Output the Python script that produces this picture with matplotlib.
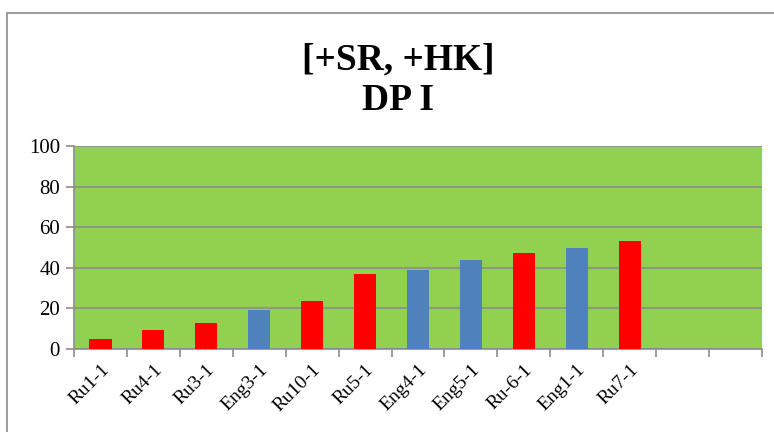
import matplotlib
matplotlib.use("Agg")
import matplotlib.pyplot as plt
from matplotlib.patches import Rectangle
import numpy as np

categories = ["Ru1-1", "Ru4-1", "Ru3-1", "Eng3-1", "Ru10-1", "Ru5-1",
              "Eng4-1", "Eng5-1", "Ru-6-1", "Eng1-1", "Ru7-1", "", ""]
values = [4.9, 9.3, 12.7, 19.1, 23.5, 36.8, 39.1, 43.6, 47.1, 50.0, 53.4, None, None]
groups = ["Ru", "Ru", "Ru", "Eng", "Ru", "Ru", "Eng", "Eng", "Ru", "Eng", "Ru", None, None]
group_colors = {"Ru": "#FF0000", "Eng": "#4F81BD"}
yticks = [0, 20, 40, 60, 80, 100]

plt.rcParams['font.family'] = ['Liberation Serif', 'DejaVu Serif']

fig = plt.figure(figsize=(7.74, 4.32), dpi=100)
# outer chart frame
fig.patches.append(Rectangle((7/774, -0.1), 1.2, (432-13)/432 + 0.1, transform=fig.transFigure,
                             fill=False, edgecolor="#8C8C8C", linewidth=1.2))

ax = fig.add_axes([74/774, (432-349)/432, (762-74)/774, (349-146)/432])
ax.set_facecolor("#92D050")

n = len(categories)
x = np.arange(n)
for xi, v, g in zip(x, values, groups):
    if v is None:
        continue
    ax.bar(xi, v, width=0.42, color=group_colors[g], zorder=3)

ax.set_xlim(-0.5, n - 0.5)
ax.set_ylim(0, 100)
ax.set_yticks(yticks)
ax.set_yticklabels([str(t) for t in yticks], fontsize=15)
ax.yaxis.grid(True, color="#8C8C8C", linewidth=1.2, zorder=1)
ax.set_axisbelow(True)

ax.set_xticks(x)
ax.set_xticklabels(categories, rotation=45, ha="right", rotation_mode="anchor", fontsize=14)
ax.tick_params(axis="x", which="major", length=0, pad=9)
ax.set_xticks(np.arange(-0.5, n, 1.0), minor=True)
ax.tick_params(axis="x", which="minor", length=6, color="#8C8C8C", width=1.2)
ax.tick_params(axis="y", length=6, color="#8C8C8C", width=1.2, pad=4)

for s in ["top", "right"]:
    ax.spines[s].set_visible(False)
for s in ["left", "bottom"]:
    ax.spines[s].set_color("#8C8C8C")
    ax.spines[s].set_linewidth(1.2)

fig.text(398/774, 1 - 69/432, "[+SR, +HK]", ha="center", va="baseline",
         fontsize=27, fontweight="bold")
fig.text(398/774, 1 - 110/432, "DP I", ha="center", va="baseline",
         fontsize=27, fontweight="bold")

fig.savefig("out.png", dpi=100)
